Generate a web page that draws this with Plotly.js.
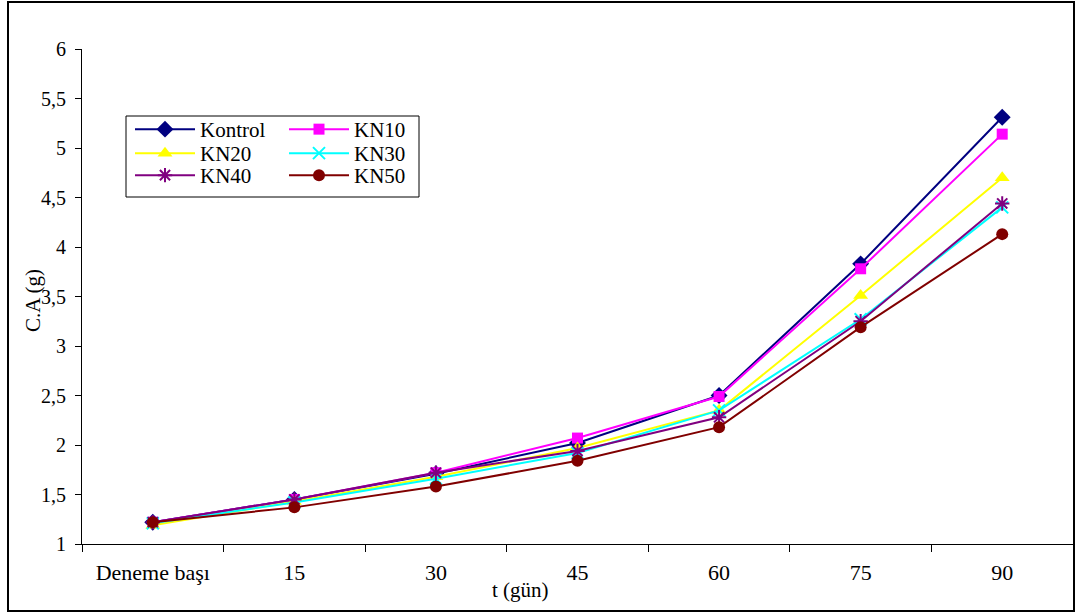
<!DOCTYPE html>
<html>
<head>
<meta charset="utf-8">
<script src="https://cdn.plot.ly/plotly-3.0.1.min.js"></script>
<style>
html,body{margin:0;padding:0;background:#fff;}
#chart{width:1079px;height:616px;}
</style>
</head>
<body>
<div id="chart"></div>
<script>
const categories = ["Deneme başı", "15", "30", "45", "60", "75", "90"];
const kontrol = [1.22, 1.45, 1.71, 2.02, 2.50, 3.83, 5.31];
const kn10    = [1.22, 1.45, 1.72, 2.07, 2.49, 3.78, 5.14];
const kn20    = [1.19, 1.43, 1.68, 1.97, 2.35, 3.51, 4.70];
const kn30    = [1.21, 1.42, 1.66, 1.92, 2.35, 3.27, 4.40];
const kn40    = [1.22, 1.45, 1.72, 1.94, 2.28, 3.25, 4.44];
const kn50    = [1.22, 1.37, 1.58, 1.84, 2.18, 3.19, 4.13];
const yTicks = [1, 1.5, 2, 2.5, 3, 3.5, 4, 4.5, 5, 5.5, 6];

const font = "Liberation Serif";

function tr(name, y, color, symbol, size, legend, extra) {
  const m = Object.assign({symbol: symbol, size: size, color: color, line: {color: color, width: 0}}, extra || {});
  return {
    x: categories, y: y, name: name, type: "scatter", mode: "lines+markers",
    line: {color: color, width: 2},
    marker: m,
    legend: legend
  };
}

const data = [
  tr("Kontrol", kontrol, "#000080", "diamond", 13, "legend"),
  tr("KN10", kn10, "#FF00FF", "square", 11, "legend"),
  tr("KN20", kn20, "#FFFF00", "triangle-up", 13, "legend2"),
  tr("KN30", kn30, "#00FFFF", "x-thin-open", 12, "legend2", {line: {color: "#00FFFF", width: 2}}),
  tr("KN40", kn40, "#800080", "asterisk-open", 12, "legend3", {line: {color: "#800080", width: 2}}),
  tr("KN50", kn50, "#800000", "circle", 12, "legend3")
];

const L = 82, R = 1073, T = 49, B = 544;
const W = R - L, H = B - T;
function px(x){ return (x - L) / W; }
function py(y){ return (B - y) / H; }

const legendCommon = {
  font: {family: font, size: 21, color: "#000"},
  bgcolor: "rgba(0,0,0,0)",
  borderwidth: 0,
  tracegroupgap: 0,
  itemwidth: 60,
  entrywidth: 79,
  entrywidthmode: "pixels",
  xanchor: "left", yanchor: "top",
  orientation: "h"
};

const layout = {
  width: 1079, height: 616,
  margin: {l: L, r: 1079 - R, t: T, b: 616 - B, pad: 0},
  paper_bgcolor: "#fff", plot_bgcolor: "#fff",
  separators: ", ",
  font: {family: font, size: 20, color: "#000"},
  showlegend: true,
  legend: Object.assign({}, legendCommon, {x: px(130), y: py(109)}),
  legend2: Object.assign({}, legendCommon, {x: px(130), y: py(133)}),
  legend3: Object.assign({}, legendCommon, {x: px(130), y: py(155)}),
  xaxis: {
    type: "category", range: [-0.5, 6.5],
    showline: true, linecolor: "#000", linewidth: 1,
    ticks: "outside", tickson: "boundaries", ticklen: 7, tickcolor: "#000",
    showgrid: false, zeroline: false,
    tickfont: {family: font, size: 22, color: "#000"},
    ticklabelstandoff: 9, fixedrange: true
  },
  yaxis: {
    range: [1, 6], tickvals: yTicks,
    showline: true, linecolor: "#000", linewidth: 1,
    ticks: "outside", ticklen: 6, tickcolor: "#000",
    showgrid: false, zeroline: false,
    tickfont: {family: font, size: 20, color: "#000"},
    ticklabelstandoff: 5, fixedrange: true
  },
  annotations: [
    {text: "t (gün)", xref: "paper", yref: "paper", x: px(520), y: py(590),
     xanchor: "center", yanchor: "middle", showarrow: false,
     font: {family: font, size: 21, color: "#000"}},
    {text: "C.A (g)", xref: "paper", yref: "paper", x: px(33), y: py(301),
     xanchor: "center", yanchor: "middle", showarrow: false, textangle: -90,
     font: {family: font, size: 21, color: "#000"}}
  ],
  shapes: [
    {type: "rect", xref: "paper", yref: "paper", x0: px(126), x1: px(419), y0: py(197), y1: py(116),
     line: {color: "#000", width: 1}, fillcolor: "rgba(0,0,0,0)"},
    {type: "rect", xref: "paper", yref: "paper", x0: px(8), x1: px(1074), y0: py(611), y1: py(2),
     line: {color: "#000", width: 2}, fillcolor: "rgba(0,0,0,0)"}
  ]
};

Plotly.newPlot("chart", data, layout, {displayModeBar: false, staticPlot: true});
</script>
</body>
</html>
